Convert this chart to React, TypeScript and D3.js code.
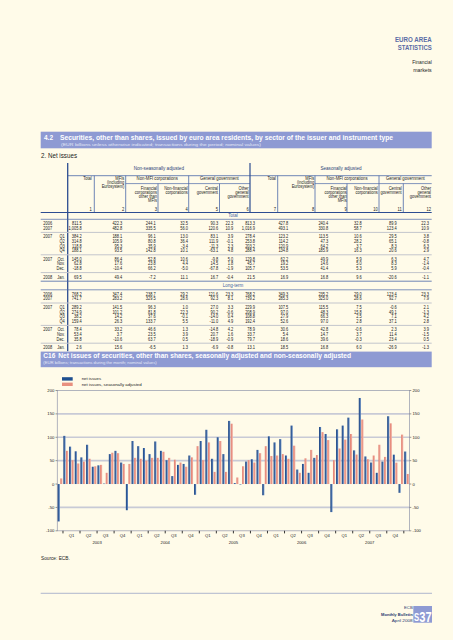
import React, { useEffect } from "react";
import * as d3 from "d3";

// ---------- chart data ----------
const months = [
  "2002-12",
  "2003-01","2003-02","2003-03","2003-04","2003-05","2003-06","2003-07","2003-08","2003-09","2003-10","2003-11","2003-12",
  "2004-01","2004-02","2004-03","2004-04","2004-05","2004-06","2004-07","2004-08","2004-09","2004-10","2004-11","2004-12",
  "2005-01","2005-02","2005-03","2005-04","2005-05","2005-06","2005-07","2005-08","2005-09","2005-10","2005-11","2005-12",
  "2006-01","2006-02","2006-03","2006-04","2006-05","2006-06","2006-07","2006-08","2006-09","2006-10","2006-11","2006-12",
  "2007-01","2007-02","2007-03","2007-04","2007-05","2007-06","2007-07","2007-08","2007-09","2007-10","2007-11","2007-12",
  "2008-01",
];
const netIssues = [
  -80,
  103, 80, 70, 57, 84, 37, 40, 1, 64, 71, 46, -56,
  92, 81, 77, 64, 91, 71, 51, 17, 41, 43, 61, -23,
  92, 116, 54, 100, 64, 135, 2, -1, 48, 53, 73, -24,
  102, 89, 96, 61, 125, 31, 43, 24, 56, 122, 107, -60,
  117, 125, 142, 72, 184, 59, 46, 24, 48, 145.0, 62.8, -18.8,
  69.5,
];
const netIssuesSA = [
  12,
  71, 51, 44, 48, 54, 38, 41, 24, 67, 66, 43, 43,
  56, 54, 50, 56, 56, 69, 56, 52, 46, 37, 57, 81,
  51, 89, 26, 92, 26, 129, 14, 38, 51, 46, 66, 81,
  60, 61, 64, 54, 82, 24, 55, 73, 62, 111, 94, 51,
  76, 95, 107, 63, 138, 53, 61, 84, 58, 129.8, 45.7, 105.7,
  21.5,
];
const quarterLabels = ["Q1", "Q2", "Q3", "Q4"];
const years = ["2003", "2004", "2005", "2006", "2007"];
const yTicks = [-100, -50, 0, 50, 100, 150, 200];
const gridValues = [-50, 50, 100, 150];
const legendLabels = ["net issues", "net issues, seasonally adjusted"];

// ---------- table data ----------
const rowLabels: [string, string][] = [
  ["2006", ""], ["2007", ""], ["2007", "Q1"], ["", "Q2"], ["", "Q3"], ["", "Q4"],
  ["2007", "Oct."], ["", "Nov."], ["", "Dec."], ["2008", "Jan."],
];
const rowGroups = [0, 0, 1, 1, 1, 1, 2, 2, 2, 3];
const totalRows = [
  ["811.5", "422.3", "244.1", "32.5", "90.3", "22.3", "813.3", "427.8", "240.4", "32.8", "89.9", "22.3"],
  ["1,005.8", "482.8", "335.5", "56.0", "120.6", "10.9", "1,016.9", "493.1", "330.8", "58.7", "123.4", "10.9"],
  ["384.2", "188.1", "96.1", "13.0", "83.1", "3.9", "278.4", "123.2", "113.5", "10.6", "29.5", "3.8"],
  ["314.8", "105.9", "80.8", "36.4", "111.9", "-0.1", "253.8", "114.2", "47.3", "28.2", "65.1", "-0.8"],
  ["118.8", "95.3", "35.9", "-3.4", "-11.3", "2.3", "203.2", "120.9", "64.2", "3.7", "8.3", "6.3"],
  ["188.1", "93.5", "142.8", "10.1", "-63.1", "4.8", "288.4", "134.8", "185.9", "16.3", "20.6", "2.9"],
  ["145.0", "86.4", "52.8", "10.6", "-9.8", "5.0", "129.8", "62.2", "49.9", "5.9", "6.3", "4.7"],
  ["62.8", "17.6", "23.8", "4.4", "14.5", "1.8", "45.7", "19.2", "14.6", "5.0", "8.3", "-1.4"],
  ["-18.8", "-10.4", "66.2", "-5.0", "-67.8", "-1.9", "105.7", "53.5", "41.4", "5.3", "5.9", "-0.4"],
  ["69.5", "49.4", "-7.2", "11.1", "16.7", "-0.4", "21.5", "16.9", "16.8", "9.6", "-20.6", "-1.1"],
];
const longTermRows = [
  ["768.2", "347.4", "238.7", "29.2", "121.6", "23.3", "768.2", "349.3", "235.2", "29.0", "123.4", "23.3"],
  ["741.7", "283.2", "329.5", "28.6", "92.3", "8.1", "739.2", "285.3", "325.0", "28.6", "92.7", "7.9"],
  ["289.2", "141.5", "96.3", "1.0", "27.0", "3.3", "229.9", "107.5", "115.5", "7.5", "-0.6", "2.1"],
  ["274.9", "101.2", "81.8", "22.3", "90.2", "-0.6", "208.9", "97.0", "48.3", "15.8", "49.1", "-1.3"],
  ["38.2", "14.2", "37.6", "-0.1", "-14.0", "0.4", "108.8", "27.9", "66.3", "2.5", "7.1", "4.2"],
  ["159.4", "26.3", "133.7", "5.5", "-11.0", "4.9", "192.4", "52.6", "97.0", "2.8", "37.1", "2.8"],
  ["78.4", "33.2", "46.6", "1.3", "-14.8", "4.2", "78.9", "30.6", "42.8", "-0.6", "2.3", "3.9"],
  ["53.4", "3.7", "23.5", "3.9", "20.7", "1.6", "33.7", "5.4", "14.7", "3.7", "11.4", "-1.5"],
  ["35.8", "-10.6", "63.7", "0.5", "-18.9", "-0.9", "79.7", "18.6", "39.6", "-0.3", "23.4", "0.5"],
  ["2.6", "15.6", "-6.5", "1.3", "-6.9", "-0.8", "13.1", "18.5", "16.8", "6.0", "-26.9", "-1.3"],
];
const colHeaders: string[][] = [
  ["Total"],
  ["MFIs", "(including", "Eurosystem)"],
  ["Financial", "corporations", "other than", "MFIs"],
  ["Non-financial", "corporations"],
  ["Central", "government"],
  ["Other", "general", "government"],
];
const subHeaderCols = [2, 3, 4, 5];
const groupHeaders = ["Non-MFI corporations", "General government"];
const halfHeaders = ["Non-seasonally adjusted", "Seasonally adjusted"];

// ---------- layout ----------
const FONT = "'Liberation Sans', Arial, Helvetica, sans-serif";
const BG = "#fffbe9";
const BAND = "#8e9ad3";
const BLUE_LINE = "#4a67a8";
const DARK = "#1f4f8f";
const PINK = "#e8907f";

const headRight = [91.7, 124.3, 157, 187.7, 218, 248.7, 276, 314.3, 346.7, 377.7, 401.7, 431];
const numRight = [81.7, 122.3, 155.7, 188, 218.3, 233.3, 255, 288.3, 328.3, 361.7, 396.7, 429];
const colEdges = [67.7, 94.3, 125.7, 158, 188.7, 219.5, 250, 277.7, 315, 347, 379, 403.3, 431.7];

const T = ({ x, y, s = 1, anchor = "start", size = 4.5, weight = "normal", fill = "#222", children, len }: any) => (
  <text
    transform={`translate(${x},${y}) scale(${s},1)`}
    textAnchor={anchor}
    fontSize={size}
    fontWeight={weight}
    fill={fill}
    fontFamily={FONT}
    textLength={len}
    lengthAdjust={len ? "spacingAndGlyphs" : undefined}
  >
    {children}
  </text>
);

export default function App() {
  useEffect(() => {
    document.body.style.margin = "0";
    document.body.style.background = BG;
  }, []);

  // chart scales
  const x = d3.scaleBand<string>().domain(months).range([57.3, 409.5]).padding(0);
  const y = d3.scaleLinear().domain([-100, 200]).range([530.8, 390.5]);
  const bw = x.bandwidth();
  const barW = bw * 0.37;
  const plotL = 57.3, plotR = 409.5;

  const quarterStarts = months.filter((m) => ["01", "04", "07", "10"].includes(m.slice(5)));
  const qTicks = quarterStarts.map((m) => x(m)!);
  const qLabelPos = quarterStarts
    .filter((m) => m < "2008")
    .map((m, i) => ({ label: quarterLabels[i % 4], cx: x(m)! + bw * 1.5 }));
  const yearPos = years.map((yr) => ({ yr, cx: x(`${yr}-06`)! + bw }));

  // table rows
  const u = 4.6, g = 4;
  const rowY = (start: number) => rowGroups.map((gr, i) => start + i * u + gr * g);
  const totStart = 223.5;
  const totY = rowY(totStart);
  const ltStart = totStart + 11 * u + 5 * g;
  const ltY = rowY(ltStart);
  const sepAfter = [1, 5, 8];
  const totEnd = totY[9] + (u + g) / 2;
  const ltLabel = totEnd + (u + g) / 2;
  const ltLine = ltLabel + (u + g) / 2;
  const ltEnd = ltY[9] + (u + g) / 2 - 0.6;

  const renderSection = (ys: number[], data: string[][], key: string) => (
    <g key={key}>
      {sepAfter.map((i) => (
        <line key={i} x1={40.7} x2={431.7} y1={(ys[i] + ys[i + 1]) / 2} y2={(ys[i] + ys[i + 1]) / 2} stroke="#c3c5cc" strokeWidth={1} />
      ))}
      {ys.map((yy, r) => (
        <g key={r}>
          {rowLabels[r][0] && <T x={43.3} y={yy + 1.6} s={0.88}>{rowLabels[r][0]}</T>}
          {rowLabels[r][1] && <T x={64.7} y={yy + 1.6} s={0.88} anchor="end">{rowLabels[r][1]}</T>}
          {data[r].map((v, c) => (
            <T key={c} x={numRight[c]} y={yy + 1.6} s={0.88} anchor="end">{v}</T>
          ))}
        </g>
      ))}
    </g>
  );

  return (
    <svg width={453} height={640} viewBox="0 0 453 640" style={{ position: "absolute", left: 0, top: 0, display: "block" }}>
      <rect x={0} y={0} width={453} height={640} fill={BG} />

      {/* top right header */}
      <T x={431.7} y={41.5} anchor="end" size={7.2} weight="bold" fill="#5a6ba6" len={36.7}>EURO AREA</T>
      <T x={431.7} y={49.5} anchor="end" size={7.2} weight="bold" fill="#5a6ba6" len={34}>STATISTICS</T>
      <T x={431.7} y={64} anchor="end" size={4.8} fill="#222" len={19.4}>Financial</T>
      <T x={431.7} y={72} anchor="end" size={4.8} fill="#222" len={18.4}>markets</T>

      {/* section band */}
      <rect x={40.7} y={131.7} width={391} height={16.6} fill={BAND} />
      <T x={44} y={140.3} size={7} weight="bold" fill="#fff" len={9}>4.2</T>
      <T x={60} y={140.3} size={7} weight="bold" fill="#fff" len={333}>
        Securities, other than shares, issued by euro area residents, by sector of the issuer and instrument type
      </T>
      <T x={61} y={146.3} size={4.3} fill="#e3e7f7" len={200}>
        (EUR billions unless otherwise indicated; transactions during the period; nominal values)
      </T>
      <T x={41} y={158.3} size={6.3} fill="#222" len={36}>2. Net issues</T>

      {/* table header */}
      <T x={158.8} y={170} anchor="middle" size={4.6} fill="#2b3f78">{halfHeaders[0]}</T>
      <T x={341} y={170} anchor="middle" size={4.6} fill="#2b3f78">{halfHeaders[1]}</T>
      <line x1={67.7} x2={431.7} y1={175.7} y2={175.7} stroke={BLUE_LINE} strokeWidth={0.8} />
      <line x1={125.7} x2={250} y1={183.6} y2={183.6} stroke={BLUE_LINE} strokeWidth={0.7} />
      <line x1={315} x2={431.7} y1={183.6} y2={183.6} stroke={BLUE_LINE} strokeWidth={0.7} />
      {[94.3, 125.7, 188.7, 277.7, 315, 379].map((xx) => (
        <line key={xx} x1={xx} x2={xx} y1={175.7} y2={212.5} stroke={BLUE_LINE} strokeWidth={0.8} />
      ))}
      {[158, 219.5, 347, 403.3].map((xx) => (
        <line key={xx} x1={xx} x2={xx} y1={183.6} y2={212.5} stroke={BLUE_LINE} strokeWidth={0.8} />
      ))}
      <line x1={250} x2={250} y1={163} y2={212.5} stroke="#2d4d91" strokeWidth={1.2} />
      <line x1={67.7} x2={67.7} y1={163} y2={ltEnd} stroke="#2d4d91" strokeWidth={1.3} />
      {[0, 1].map((half) => (
        <g key={half}>
          <T x={(colEdges[half * 6 + 2] + colEdges[half * 6 + 4]) / 2} y={180} anchor="middle" size={4.5} s={0.95}>{groupHeaders[0]}</T>
          <T x={(colEdges[half * 6 + 4] + colEdges[half * 6 + 6]) / 2} y={180} anchor="middle" size={4.5} s={0.95}>{groupHeaders[1]}</T>
          {colHeaders.map((lines, c) => {
            const base = subHeaderCols.includes(c) ? 190 : 180;
            return lines.map((ln, k) => (
              <T key={`${c}-${k}`} x={headRight[half * 6 + c]} y={base + k * 4} anchor="end" size={4.5} s={0.9}>{ln}</T>
            ));
          })}
          {colHeaders.map((_, c) => (
            <T key={`n${c}`} x={headRight[half * 6 + c]} y={210.6} anchor="end" size={4.5} s={0.9}>{String(half * 6 + c + 1)}</T>
          ))}
        </g>
      ))}
      <line x1={40.7} x2={431.7} y1={212.5} y2={212.5} stroke="#2d4d91" strokeWidth={1} />
      <T x={233} y={217.2} anchor="middle" size={4.5} fill="#3d5da0">Total</T>
      <line x1={40.7} x2={431.7} y1={219.3} y2={219.3} stroke={BLUE_LINE} strokeWidth={0.7} />
      {renderSection(totY, totalRows, "tot")}
      <line x1={40.7} x2={431.7} y1={totEnd} y2={totEnd} stroke={BLUE_LINE} strokeWidth={0.8} />
      <T x={233} y={ltLabel + 1.6} anchor="middle" size={4.5} fill="#3d5da0">Long-term</T>
      <line x1={40.7} x2={431.7} y1={ltLine} y2={ltLine} stroke={BLUE_LINE} strokeWidth={0.7} />
      {renderSection(ltY, longTermRows, "lt")}

      {/* chart band */}
      <rect x={40.7} y={ltEnd + 0.4} width={391} height={15.6} fill={BAND} />
      <T x={43.3} y={357.6} size={6.4} weight="bold" fill="#fff" len={12}>C16</T>
      <T x={58.3} y={357.6} size={6.4} weight="bold" fill="#fff" len={292.7}>
        Net issues of securities, other than shares, seasonally adjusted and non-seasonally adjusted
      </T>
      <T x={43.3} y={363.6} size={4.2} fill="#e3e7f7">(EUR billions; transactions during the month; nominal values)</T>

      {/* legend */}
      <rect x={62} y={377.2} width={10.7} height={3.4} fill={DARK} />
      <T x={81.7} y={380.4} size={4.3}>{legendLabels[0]}</T>
      <rect x={62} y={382.6} width={10.7} height={3.4} fill={PINK} />
      <T x={81.7} y={385.8} size={4.3} len={60}>{legendLabels[1]}</T>

      {/* grid */}
      {gridValues.map((v) => (
        <line key={v} x1={plotL} x2={plotR} y1={y(v)} y2={y(v)} stroke="#c8cad6" strokeWidth={1.6} />
      ))}
      <rect x={plotL} y={y(200)} width={plotR - plotL} height={y(-100) - y(200)} fill="none" stroke="#9fa2b2" strokeWidth={0.8} />

      {/* bars */}
      <defs>
        <linearGradient id="gDark" x1="0" x2="1" y1="0" y2="0">
          <stop offset="0" stopColor="#163f7d" />
          <stop offset="1" stopColor="#5f88c2" />
        </linearGradient>
        <linearGradient id="gPink" x1="0" x2="1" y1="0" y2="0">
          <stop offset="0" stopColor="#e27a69" />
          <stop offset="1" stopColor="#f1b3a8" />
        </linearGradient>
      </defs>
      {months.map((m, i) => {
        const v1 = netIssues[i];
        const v2 = netIssuesSA[i];
        const x0 = x(m)!;
        return (
          <g key={m}>
            <rect x={x0 + 0.4} width={barW} y={Math.min(y(v1), y(0))} height={Math.abs(y(v1) - y(0))} fill="url(#gDark)" />
            <rect x={x0 + 0.4 + barW + 0.5} width={barW} y={Math.min(y(v2), y(0))} height={Math.abs(y(v2) - y(0))} fill="url(#gPink)" />
          </g>
        );
      })}

      {/* y axes */}
      {yTicks.map((v) => (
        <g key={v}>
          <line x1={plotL - 1.8} x2={plotL} y1={y(v)} y2={y(v)} stroke="#555" strokeWidth={0.6} />
          <line x1={plotR} x2={plotR + 1.8} y1={y(v)} y2={y(v)} stroke="#555" strokeWidth={0.6} />
          <T x={54.3} y={y(v) + 1.5} anchor="end" size={4.2}>{String(v)}</T>
          <T x={412.5} y={y(v) + 1.5} size={4.2}>{String(v)}</T>
        </g>
      ))}

      {/* x axis */}
      {qTicks.map((tx, i) => (
        <line key={i} x1={tx} x2={tx} y1={y(-100)} y2={y(-100) + 2.6} stroke="#222" strokeWidth={0.9} />
      ))}
      {qLabelPos.map((q, i) => (
        <T key={i} x={q.cx} y={537} anchor="middle" size={4.2}>{q.label}</T>
      ))}
      {yearPos.map((p) => (
        <T key={p.yr} x={p.cx} y={543.8} anchor="middle" size={4.2}>{p.yr}</T>
      ))}

      <T x={41} y={559.8} size={4.5} len={28.7}>Source: ECB.</T>

      {/* footer */}
      <line x1={40.7} x2={432} y1={593.3} y2={593.3} stroke="#9ba3c6" strokeWidth={0.8} />
      <T x={412.7} y={609} anchor="end" size={4.2} fill="#27386f">ECB</T>
      <T x={412.7} y={615.5} anchor="end" size={4.2} weight="bold" fill="#27386f" len={31.7}>Monthly Bulletin</T>
      <T x={412.7} y={622} anchor="end" size={4.2} fill="#27386f" len={21}>April 2008</T>
      <rect x={413.3} y={606} width={18.7} height={16.7} fill={BAND} />
      <T x={414} y={620.5} size={11} weight="bold" fill="#fff" s={0.7}>S</T>
      <T x={419.3} y={621.5} size={15} weight="bold" fill="#fff" len={12.4}>37</T>
    </svg>
  );
}
